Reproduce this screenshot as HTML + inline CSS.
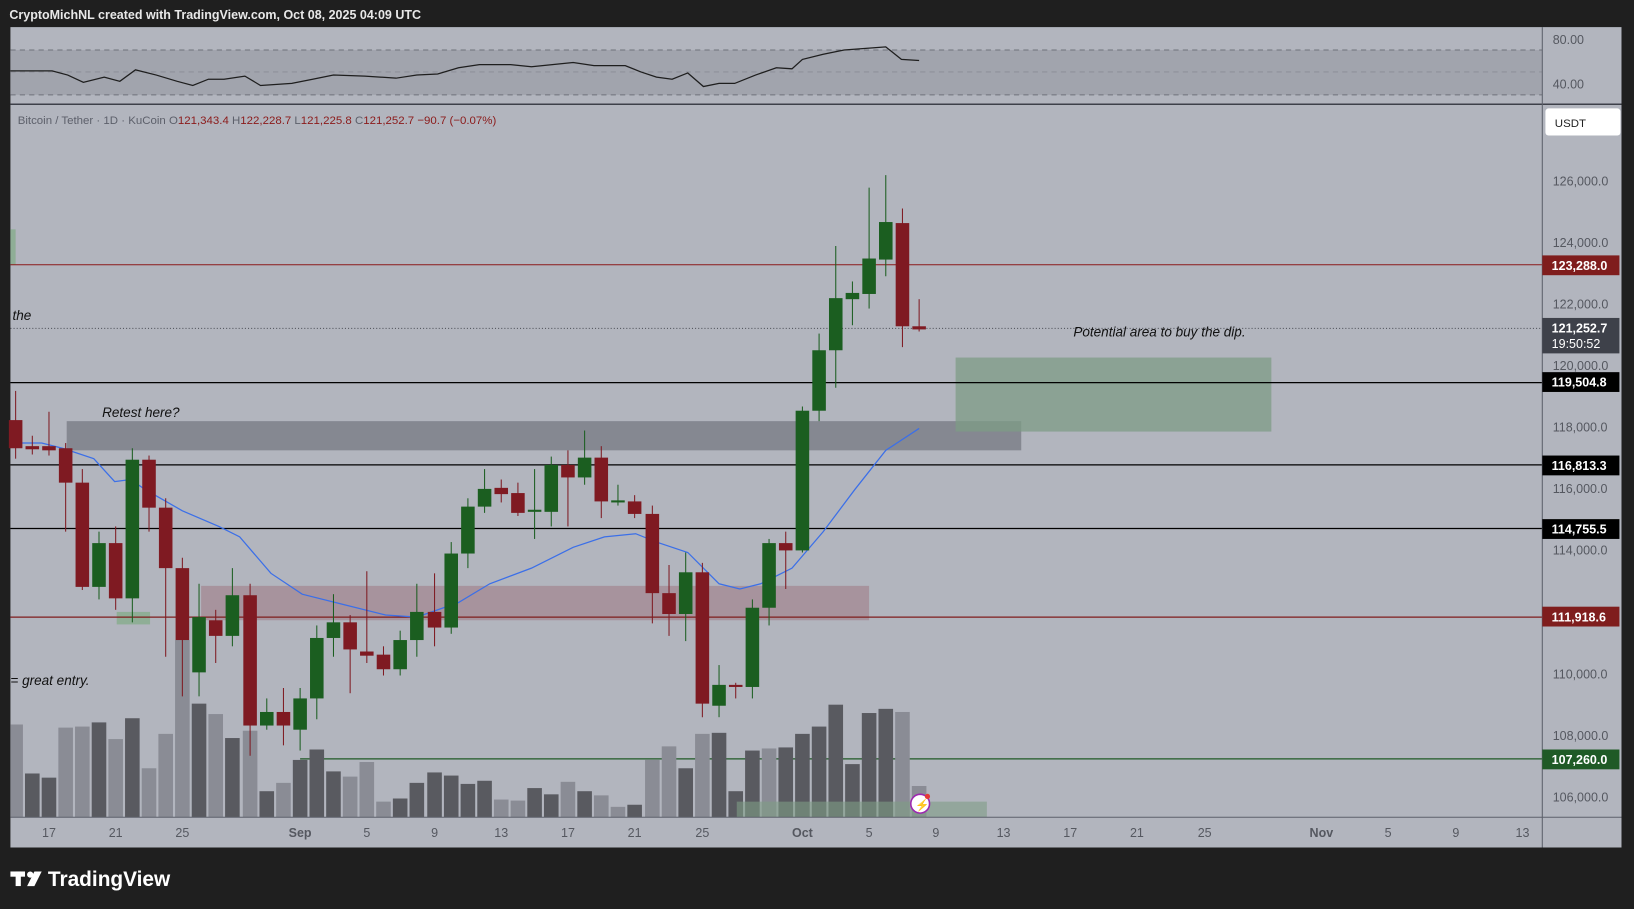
<!DOCTYPE html>
<html><head><meta charset="utf-8"><style>
html,body{margin:0;padding:0;background:#1f1f1f;width:1634px;height:909px;overflow:hidden}
svg{display:block}
text{font-family:"Liberation Sans",sans-serif}
</style></head><body>
<svg width="1634" height="909" viewBox="0 0 1568 872" preserveAspectRatio="none" xmlns="http://www.w3.org/2000/svg">
<rect width="1568" height="872" fill="#1f1f1f"/>
<text x="9" y="18" fill="#e8e8e8" font-size="12" font-weight="bold">CryptoMichNL created with TradingView.com, Oct 08, 2025 04:09 UTC</text>
<rect x="10" y="26" width="1546" height="787" fill="#b2b5be"/>
<!-- RSI pane -->
<rect x="10" y="48" width="1470" height="43" fill="#a1a4ad"/>
<g stroke="#6f727b" stroke-dasharray="5,4" stroke-width="1">
<line x1="10" y1="48" x2="1480" y2="48"/><line x1="10" y1="69" x2="1480" y2="69" stroke="#8e919a"/><line x1="10" y1="91" x2="1480" y2="91"/></g>
<polyline fill="none" stroke="#1e1e1e" stroke-width="1.2" points="10,68 50,68 65,72 80,79 100,74 115,78 130,67 150,72 170,78 185,82 200,76 215,76 235,73 250,82 280,80 300,76 320,72 350,73 380,75 400,72 420,71 440,65 460,62 490,62 510,64 530,62 550,60 570,63 600,63 615,69 630,74 645,76 660,70 675,83 690,80 705,80 725,72 745,65 760,66 770,57 790,52 810,48 850,45 865,57 882,58"/>
<line x1="10" y1="100" x2="1556" y2="100" stroke="#3d4049" stroke-width="1.5"/>
<text x="1490" y="42" fill="#555860" font-size="12">80.00</text>
<text x="1490" y="85" fill="#555860" font-size="12">40.00</text>
<text x="17" y="119" fill="#5d606b" font-size="11">Bitcoin / Tether · 1D · KuCoin  <tspan fill="#5d606b">O</tspan><tspan fill="#8b1a1a">121,343.4</tspan>  <tspan fill="#5d606b">H</tspan><tspan fill="#8b1a1a">122,228.7</tspan>  <tspan fill="#5d606b">L</tspan><tspan fill="#8b1a1a">121,225.8</tspan>  <tspan fill="#5d606b">C</tspan><tspan fill="#8b1a1a">121,252.7</tspan>  <tspan fill="#8b1a1a">−90.7 (−0.07%)</tspan></text>
<!-- zones -->
<rect x="10" y="220" width="5" height="34" fill="#8fae96"/>
<rect x="64" y="404" width="916" height="28" fill="#858891"/>
<rect x="917" y="343" width="303" height="71" fill="#7e9c86" opacity="0.75"/>
<rect x="193" y="562" width="641" height="33" fill="#9a6a76" opacity="0.45"/>
<rect x="112" y="587" width="32" height="12" fill="#8fae96"/>
<!-- horizontal lines -->
<line x1="10" y1="254" x2="1480" y2="254" stroke="#8b1a1a" stroke-width="1"/>
<line x1="10" y1="315" x2="1480" y2="315" stroke="#4a4d55" stroke-dasharray="1,2"/>
<line x1="10" y1="367" x2="1480" y2="367" stroke="#000" stroke-width="1.2"/>
<line x1="10" y1="446" x2="1480" y2="446" stroke="#000" stroke-width="1.2"/>
<line x1="10" y1="507" x2="1480" y2="507" stroke="#000" stroke-width="1.2"/>
<line x1="10" y1="592" x2="1480" y2="592" stroke="#7f1d1d" stroke-width="1.2"/>
<line x1="288" y1="728" x2="1480" y2="728" stroke="#1f5a26" stroke-width="1.2"/>
<!-- volume -->
<g id="vol"></g>
<rect x="707" y="769" width="240" height="15" fill="#7e9c86" opacity="0.6"/>
<!-- EMA -->
<polyline fill="none" stroke="#3b6fe8" stroke-width="1.2" points="10,425 40,425 60,430 90,440 110,462 125,460 140,470 175,490 210,505 230,515 260,550 290,570 330,580 370,590 400,592 440,578 470,560 510,545 550,525 580,515 610,512 630,520 660,530 690,560 710,565 730,560 760,545 790,510 820,470 850,432 882,411"/>
<g id="candles"></g>
<!-- texts -->
<g font-style="italic" font-size="13" fill="#111">
<text x="12" y="307">the</text>
<text x="98" y="400">Retest here?</text>
<text x="10" y="657">= great entry.</text>
<text x="1030" y="323">Potential area to buy the dip.</text></g>
<circle cx="883" cy="771" r="9" fill="#fff" stroke="#9c27b0" stroke-width="1.5"/>
<text x="878" y="776" fill="#9c27b0" font-size="11">⚡</text>
<circle cx="890" cy="764" r="2.5" fill="#e53935"/>
<!-- axes -->
<line x1="1480" y1="26" x2="1480" y2="813" stroke="#5d606b"/>
<line x1="10" y1="784" x2="1556" y2="784" stroke="#5d606b"/>
<rect x="1483" y="104" width="72" height="26" rx="3" fill="#fff"/>
<text x="1492" y="122" fill="#222" font-size="11">USDT</text>
<g fill="#555860" font-size="12">
<text x="1490" y="178">126,000.0</text><text x="1490" y="237">124,000.0</text><text x="1490" y="296">122,000.0</text><text x="1490" y="355">120,000.0</text><text x="1490" y="414">118,000.0</text><text x="1490" y="473">116,000.0</text><text x="1490" y="532">114,000.0</text><text x="1490" y="591">112,000.0</text><text x="1490" y="651">110,000.0</text><text x="1490" y="710">108,000.0</text><text x="1490" y="769">106,000.0</text></g>
<rect x="1480" y="245" width="74" height="19" fill="#7f1d1d"/>
<rect x="1480" y="305" width="74" height="34" fill="#3e414a"/>
<rect x="1480" y="357" width="74" height="19" fill="#000"/>
<rect x="1480" y="437" width="74" height="19" fill="#000"/>
<rect x="1480" y="498" width="74" height="19" fill="#000"/>
<rect x="1480" y="582" width="74" height="19" fill="#7f1d1d"/>
<rect x="1480" y="719" width="74" height="19" fill="#1f5a26"/>
<g fill="#fff" font-size="12" font-weight="bold">
<text x="1489" y="259">123,288.0</text><text x="1489" y="319">121,252.7</text><text x="1489" y="334" font-weight="normal">19:50:52</text>
<text x="1489" y="371">119,504.8</text><text x="1489" y="451">116,813.3</text><text x="1489" y="512">114,755.5</text><text x="1489" y="596">111,918.6</text><text x="1489" y="733">107,260.0</text></g>
<g fill="#555860" font-size="12" text-anchor="middle">
<text x="47" y="803">17</text><text x="111" y="803">21</text><text x="175" y="803">25</text><text x="288" y="803" font-weight="bold">Sep</text><text x="352" y="803">5</text><text x="417" y="803">9</text><text x="481" y="803">13</text><text x="545" y="803">17</text><text x="609" y="803">21</text><text x="674" y="803">25</text><text x="770" y="803" font-weight="bold">Oct</text><text x="834" y="803">5</text><text x="898" y="803">9</text><text x="963" y="803">13</text><text x="1027" y="803">17</text><text x="1091" y="803">21</text><text x="1156" y="803">25</text><text x="1268" y="803" font-weight="bold">Nov</text><text x="1332" y="803">5</text><text x="1397" y="803">9</text><text x="1461" y="803">13</text></g>
<!-- logo -->
<g fill="#fff"><rect x="10" y="836" width="14" height="5"/><rect x="15" y="836" width="5" height="14"/><circle cx="29" cy="839" r="3"/><polygon points="33,836 40,836 33,850 26,850"/></g>
<text x="46" y="850" fill="#fff" font-size="20" font-weight="bold">TradingView</text>
</svg>
<script>
var ns="http://www.w3.org/2000/svg";
function el(p,t,a){var e=document.createElementNS(ns,t);for(var k in a)e.setAttribute(k,a[k]);p.appendChild(e);}
var c=[[15,403,430,375,440],[31,428,431,418,436],[47,428,432,395,437],[63,430,463,425,510],[79,463,563,450,566],[95,563,521,510,575],[111,521,574,505,585],[127,574,441,430,597],[143,441,487,437,510],[159,487,545,478,630],[175,545,614,535,668],[191,645,592,560,668],[207,595,610,585,636],[223,610,571,545,620],[240,571,696,560,725],[256,696,683,670,700],[272,683,696,660,715],[288,700,670,660,720],[304,670,612,600,690],[320,612,597,570,630],[336,597,623,590,665],[352,625,629,548,636],[368,628,642,620,648],[384,642,614,605,648],[400,614,587,560,630],[417,587,602,550,620],[433,602,531,520,608],[449,531,486,478,545],[465,486,469,450,492],[481,468,474,460,482],[497,473,492,463,495],[513,491,489,450,517],[529,491,446,438,505],[545,446,458,432,505],[561,458,439,413,465],[577,439,481,428,497],[593,482,480,465,485],[609,481,493,475,497],[626,493,569,485,598],[642,569,589,542,610],[658,589,549,530,615],[674,549,675,540,688],[690,677,657,638,688],[706,657,659,655,670],[722,659,583,575,670],[738,583,521,517,600],[754,521,528,510,565],[770,528,394,390,530],[786,394,336,320,404],[802,336,286,236,372],[818,287,281,270,312],[834,282,248,180,296],[850,249,213,168,265],[866,214,313,200,333],[882,313,316,287,318]];
var g=document.getElementById("candles");
c.forEach(function(d){var up=d[2]<d[1];var col=up?"#1b5e20":"#7f1a22";
el(g,"line",{x1:d[0],x2:d[0],y1:d[3],y2:d[4],stroke:col,"stroke-width":1});
var t=Math.min(d[1],d[2]),h=Math.max(2,Math.abs(d[1]-d[2]));
el(g,"rect",{x:d[0]-6.5,y:t,width:13,height:h,fill:col});});
var v=[[15,695,1],[31,742,0],[47,746,0],[63,698,1],[79,697,1],[95,693,0],[111,709,1],[127,689,0],[143,737,1],[159,704,1],[175,614,1],[191,675,0],[207,685,1],[223,708,0],[240,701,1],[256,759,0],[272,751,1],[288,729,0],[304,719,0],[320,740,0],[336,745,1],[352,731,1],[368,769,1],[384,766,0],[400,751,0],[417,741,0],[433,744,0],[449,752,0],[465,749,0],[481,767,1],[497,768,1],[513,756,0],[529,762,0],[545,750,1],[561,759,0],[577,763,1],[593,774,1],[609,772,0],[626,729,1],[642,716,1],[658,737,0],[674,704,1],[690,703,0],[706,759,0],[722,720,0],[738,718,1],[754,717,0],[770,704,0],[786,697,0],[802,676,0],[818,733,0],[834,684,0],[850,680,0],[866,683,1],[882,754,1]];
var gv=document.getElementById("vol");
v.forEach(function(d){var x=Math.max(10,d[0]-7);el(gv,"rect",{x:x,y:d[1],width:d[0]+7-x,height:784-d[1],fill:d[2]?"#8a8c95":"#595a60"});});
</script>
</body></html>
